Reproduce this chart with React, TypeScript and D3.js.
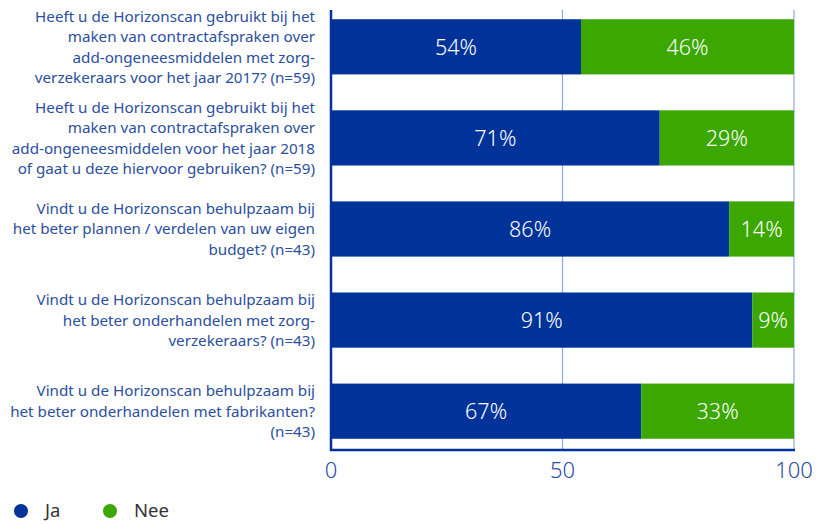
import React, { useEffect, useRef } from "react";
import * as d3 from "d3";

// vragen (regels zoals in de bron afgebroken)
const questions: string[][] = [
  [
    "Heeft u de Horizonscan gebruikt bij het",
    "maken van contractafspraken over",
    "add-ongeneesmiddelen met zorg-",
    "verzekeraars voor het jaar 2017? (n=59)",
  ],
  [
    "Heeft u de Horizonscan gebruikt bij het",
    "maken van contractafspraken over",
    "add-ongeneesmiddelen voor het jaar 2018",
    "of gaat u deze hiervoor gebruiken? (n=59)",
  ],
  [
    "Vindt u de Horizonscan behulpzaam bij",
    "het beter plannen / verdelen van uw eigen",
    "budget? (n=43)",
  ],
  [
    "Vindt u de Horizonscan behulpzaam bij",
    "het beter onderhandelen met zorg-",
    "verzekeraars? (n=43)",
  ],
  [
    "Vindt u de Horizonscan behulpzaam bij",
    "het beter onderhandelen met fabrikanten?",
    "(n=43)",
  ],
];

const ja = [54, 71, 86, 91, 67];
const nee = [46, 29, 14, 9, 33];
const ticks = [0, 50, 100];
const seriesNames = ["Ja", "Nee"];

const BLUE = "#003399";
const GREEN = "#3ba700";
const TEXT = "#2b4ea0";
const FONT = "'Noto Sans', sans-serif";

export default function App() {
  const svgRef = useRef<SVGSVGElement | null>(null);

  useEffect(() => {
    const width = 816;
    const height = 524;
    const svg = d3.select(svgRef.current);
    svg.selectAll("*").remove();
    svg.attr("width", width).attr("height", height);

    const x = d3.scaleLinear().domain([0, 100]).range([331, 794]);
    const y = d3
      .scaleBand<number>()
      .domain(d3.range(questions.length))
      .range([1, 457])
      .paddingInner(0.394)
      .paddingOuter(0.2);

    // rasterlijnen
    svg
      .selectAll(".grid")
      .data(ticks.slice(1))
      .enter()
      .append("line")
      .attr("x1", (d) => x(d))
      .attr("x2", (d) => x(d))
      .attr("y1", 10)
      .attr("y2", 450)
      .attr("stroke", "#90a8e0")
      .attr("stroke-width", 1.2);

    const rows = svg
      .selectAll(".row")
      .data(questions)
      .enter()
      .append("g");

    // Ja
    rows
      .append("rect")
      .attr("x", x(0))
      .attr("y", (_, i) => y(i)!)
      .attr("width", (_, i) => x(ja[i]) - x(0))
      .attr("height", y.bandwidth())
      .attr("fill", BLUE);

    // Nee
    rows
      .append("rect")
      .attr("x", (_, i) => x(ja[i]))
      .attr("y", (_, i) => y(i)!)
      .attr("width", (_, i) => x(ja[i] + nee[i]) - x(ja[i]))
      .attr("height", y.bandwidth())
      .attr("fill", GREEN);

    rows
      .append("text")
      .attr("x", (_, i) => x(ja[i] / 2))
      .attr("y", (_, i) => y(i)! + y.bandwidth() / 2)
      .attr("dy", "0.36em")
      .attr("text-anchor", "middle")
      .attr("fill", "#fff")
      .style("font-family", FONT)
      .style("font-weight", 300)
      .style("font-size", "21.5px")
      .text((_, i) => `${ja[i]}%`);

    rows
      .append("text")
      .attr("x", (_, i) => x(ja[i] + nee[i] / 2))
      .attr("y", (_, i) => y(i)! + y.bandwidth() / 2)
      .attr("dy", "0.36em")
      .attr("text-anchor", "middle")
      .attr("fill", "#fff")
      .style("font-family", FONT)
      .style("font-weight", 300)
      .style("font-size", "21.5px")
      .text((_, i) => `${nee[i]}%`);

    // vraagteksten
    const lh = 20.5;
    rows
      .append("text")
      .attr("text-anchor", "end")
      .attr("fill", TEXT)
      .style("font-family", FONT)
      .style("font-size", "15.2px")
      .each(function (lines, i) {
        const cy = y(i)! + y.bandwidth() / 2;
        const top = cy - ((lines.length - 1) * lh) / 2;
        d3.select(this)
          .selectAll("tspan")
          .data(lines)
          .enter()
          .append("tspan")
          .attr("x", 315)
          .attr("y", (_, j) => top + j * lh)
          .attr("dy", "0.36em")
          .text((d) => d);
      });

    // assen
    svg
      .append("line")
      .attr("x1", x(0))
      .attr("x2", x(0))
      .attr("y1", 10)
      .attr("y2", 451)
      .attr("stroke", BLUE)
      .attr("stroke-width", 2.5);
    svg
      .append("line")
      .attr("x1", x(0) - 1)
      .attr("x2", x(100) + 1)
      .attr("y1", 450)
      .attr("y2", 450)
      .attr("stroke", BLUE)
      .attr("stroke-width", 2.5);

    svg
      .selectAll(".tick")
      .data(ticks)
      .enter()
      .append("text")
      .attr("x", (d) => x(d))
      .attr("y", 470)
      .attr("dy", "0.36em")
      .attr("text-anchor", "middle")
      .attr("fill", TEXT)
      .style("font-family", FONT)
      .style("font-weight", 300)
      .style("font-size", "22px")
      .text((d) => d);

    // legenda
    const legend = svg
      .selectAll(".legend")
      .data(seriesNames)
      .enter()
      .append("g")
      .attr("transform", (_, i) => `translate(${21 + i * 89},511)`);
    legend
      .append("circle")
      .attr("r", 7)
      .attr("fill", (_, i) => (i === 0 ? BLUE : GREEN));
    legend
      .append("text")
      .attr("x", 24)
      .attr("dy", "0.35em")
      .attr("fill", "#333")
      .style("font-family", FONT)
      .style("font-size", "18.5px")
      .text((d) => d);
  }, []);

  return (
    <div style={{ position: "absolute", left: 0, top: 0 }}>
      <svg ref={svgRef} style={{ display: "block" }} />
    </div>
  );
}
